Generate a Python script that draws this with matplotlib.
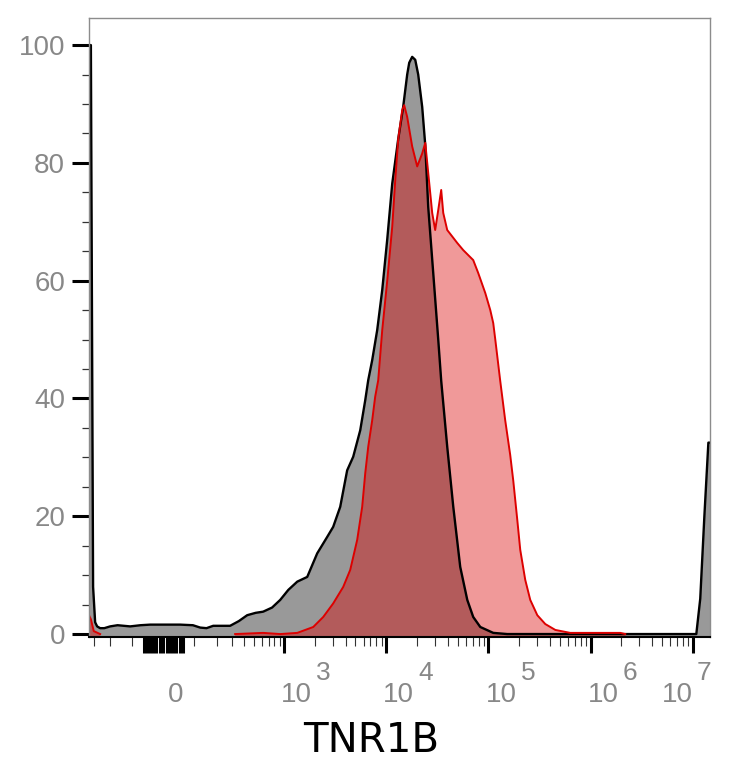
import numpy as np
import matplotlib
matplotlib.use('Agg')
import matplotlib.pyplot as plt
import matplotlib.transforms as mtransforms

plt.rcParams['font.family'] = ['Liberation Sans', 'DejaVu Sans']

# gray (control) histogram, intensity vs % of max
gray_x = [-337, -322, -305, -290, -276, -256, -230, -197, -160, -107, -70, -39,
          0, 52, 95, 123, 150, 182, 230, 283, 350, 427, 520, 619, 760, 915,
          1100, 1347, 1687, 2113, 2649, 3030, 3550, 4152, 4757, 5573, 6238,
          6672, 7297, 8166, 9146, 10238, 11462, 13101, 14660, 16049, 16800,
          17957, 19240, 20570, 22504, 24109, 25774, 28853, 32301, 34532, 39546,
          45316, 52995, 62115, 71000, 83237, 111465, 152853, 1.24e6, 1.08e7,
          1.18e7, 1.295e7, 1.417e7, 1.47e7]
gray_y = [100, 100, 8, 2, 1.3, 1.0, 1.0, 1.3, 1.5, 1.3, 1.5, 1.6,
          1.6, 1.6, 1.5, 1.1, 1.0, 1.4, 1.4, 1.4, 2.2, 3.2, 3.6, 3.8, 4.5, 5.8,
          7.5, 8.9, 9.7, 13.7, 16.5, 18.2, 21.6, 27.8, 30.1, 34.6, 39.7,
          43.1, 46.5, 51.6, 58.4, 67, 76.5, 84, 89.5, 95, 97,
          98, 97.5, 95, 89.5, 83, 72.5, 61.3, 50, 43, 31.8,
          21.6, 11.4, 5.8, 2.9, 1.2, 0.2, 0, 0, 0,
          6, 20, 32.5, 32.5]

# red (stained) histogram
red_x = [-337, -322, -300, -256, np.nan, 320, 619, 915, 1347, 1932, 2420, 3030,
         3797, 4448, 5205, 5823, 6238, 6672, 7297, 7804, 8357, 9146, 10238,
         11462, 12252, 13101, 14364, 15002, 16049, 17957, 20102, 22504, 24109,
         25774, 28195, 30143, 32301, 34532, 36157, 39546, 44283, 49580, 56654,
         66392, 71000, 79486, 93173, 104293, 111465, 116729, 130416, 145944,
         163381, 175094, 191544, 204770, 229181, 256554, 300772, 359926,
         451059, 631285, 1.95e6, 2.18e6]
red_y = [3.2, 2.5, 0.5, 0, np.nan, 0, 0.2, 0, 0.2, 1.2, 2.9, 5.2,
         8.0, 10.9, 16, 21.6, 27.3, 31.8, 36.3, 40.3, 43.1, 51.6, 60,
         69.2, 77, 84, 89, 89.8, 87.8, 82.8, 79.4, 81.6, 83.4,
         78.3, 71.5, 68.6, 72, 75.4, 71.5, 68.6, 67.5, 66.4, 65.2,
         64, 63.5, 61.3, 57.9, 55, 52.8, 50, 43, 36.3,
         30.4, 26, 19.4, 14.3, 9.2, 5.8, 3.2, 1.7,
         0.7, 0.2, 0.2, 0]

label_vals = [0, 1e3, 1e4, 1e5, 1e6, 1e7]
label_exps = ['', '3', '4', '5', '6', '7']

block_ticks = [-60, -50, -40, -30, -20, -10, 0, 10, 20, 30, 40, 50, 60]
decade_ticks = [1e3, 1e4, 1e5, 1e6, 1e7]
minor_ticks = [-300, -200, -100] + [m * 10 ** e for e in range(2, 7)
                                    for m in range(1, 10)
                                    if not (m == 1 and e > 2)]

C = 131.6


def fwd(x):
    return np.arcsinh(np.asarray(x) / C)


def inv(y):
    return C * np.sinh(y)


fig = plt.figure(figsize=(7.34, 7.68), dpi=100)
ax = fig.add_axes([89 / 734, 1 - 637 / 768, 621 / 734, 619 / 768])
ax.set_xscale('function', functions=(fwd, inv))
ax.set_xlim(-337, 1.47e7)
ax.set_ylim(-0.5, 104.6)

gx, gy = np.array(gray_x), np.array(gray_y)
rx, ry = np.array(red_x), np.array(red_y)

ax.fill_between(gx, gy, -0.5, color='#999999', lw=0)
ax.plot(gx, gy, color='black', lw=1.7, solid_joinstyle='round')
ax.fill_between(rx, ry, -0.5, color=(0.86, 0, 0), alpha=0.4, lw=0)
ax.plot(rx, ry, color='#dd0000', lw=1.4, solid_joinstyle='round')

ax.set_xticks(block_ticks + decade_ticks)
ax.set_xticks(minor_ticks, minor=True)
ax.set_yticks(range(0, 101, 20))
ax.set_yticks([v for v in range(5, 100, 5) if v % 20], minor=True)

ax.tick_params(axis='x', which='major', length=11.5, width=2.2, color='black',
               labelbottom=False)
ax.tick_params(axis='x', which='minor', length=6.5, width=0.8, color='#333333')
ax.tick_params(axis='y', which='major', length=12.2, width=2.2, color='black',
               labelsize=20, labelcolor='#888888', pad=5)
ax.tick_params(axis='y', which='minor', length=5, width=0.9, color='#333333')

for side in ['left', 'top', 'right']:
    ax.spines[side].set_color('#8c8c8c')
    ax.spines[side].set_linewidth(1)
ax.spines['bottom'].set_color('black')
ax.spines['bottom'].set_linewidth(1.5)

for v, e in zip(label_vals, label_exps):
    dx = -15.6 if v == 1e7 else 12.5
    base = mtransforms.offset_copy(ax.get_xaxis_transform(), fig=fig,
                                   x=dx, y=-65, units='dots')
    ax.text(v, 0, '0' if v == 0 else '10', transform=base, ha='center',
            va='baseline', fontsize=20, color='#888888', clip_on=False)
    if e:
        sup = mtransforms.offset_copy(ax.get_xaxis_transform(), fig=fig,
                                      x=dx + 27, y=-43, units='dots')
        ax.text(v, 0, e, transform=sup, ha='center', va='baseline',
                fontsize=19, color='#888888', clip_on=False)

fig.text(371 / 734, 1 - 752 / 768, 'TNR1B', ha='center', va='baseline',
         fontsize=29, family='DejaVu Sans', color='black')

fig.savefig('out.png', dpi=100)
